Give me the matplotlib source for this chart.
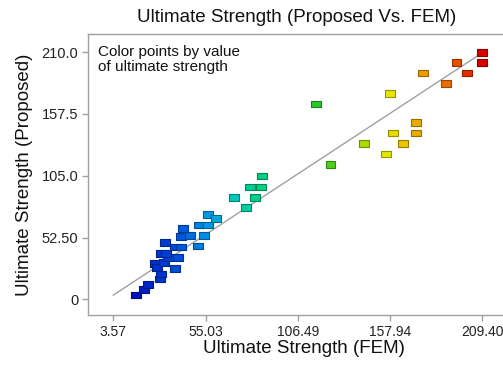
import matplotlib
matplotlib.use("Agg")
import matplotlib.pyplot as plt
import numpy as np
from matplotlib.colors import LinearSegmentedColormap, Normalize

plt.rcParams['font.family'] = ['Liberation Sans', 'DejaVu Sans']

# Data: FEM (x) vs Proposed (y)
fem = [16.2, 20.9, 23.1, 29.6, 30.0, 38.2, 26.8, 28.1, 32.0, 33.9,
       30.2, 33.0, 39.5, 38.2, 41.3, 32.6, 50.7, 41.3, 46.4, 54.0,
       42.6, 51.5, 56.2, 56.2, 60.9, 70.7, 77.8, 82.8, 79.8, 86.2,
       86.5, 116.7, 124.8, 143.3, 155.7, 159.8, 165.4, 172.4, 172.4, 157.8,
       176.2, 189.2, 195.1, 201.1, 209.1, 209.1]
proposed = [3.7, 8.5, 12.7, 17.2, 21.5, 26.3, 30.2, 27.2, 31.1, 35.3,
            39.1, 39.1, 35.7, 44.4, 44.4, 48.4, 45.3, 53.2, 54.4, 54.0,
            60.0, 63.1, 63.1, 71.9, 68.8, 86.7, 77.8, 86.3, 95.4, 95.4,
            104.8, 165.9, 114.7, 132.2, 123.4, 141.3, 132.5, 150.4, 141.3, 175.0,
            192.3, 183.2, 201.4, 192.3, 209.9, 201.0]

xticks = [3.57, 55.03, 106.49, 157.94, 209.40]
xtick_labels = ["3.57", "55.03", "106.49", "157.94", "209.40"]
yticks = [0, 52.5, 105.0, 157.5, 210.0]
ytick_labels = ["0", "52.50", "105.0", "157.5", "210.0"]
ref_line = [3.57, 209.40]

stops = [(0.0, (0/255, 20/255, 190/255)),
         (0.124, (0/255, 80/255, 220/255)),
         (0.207, (0/255, 150/255, 230/255)),
         (0.28, (0/255, 200/255, 190/255)),
         (0.357, (0/255, 210/255, 130/255)),
         (0.523, (40/255, 200/255, 40/255)),
         (0.658, (170/255, 220/255, 0/255)),
         (0.73, (230/255, 230/255, 0/255)),
         (0.808, (235/255, 175/255, 0/255)),
         (0.896, (235/255, 110/255, 0/255)),
         (0.958, (230/255, 50/255, 0/255)),
         (1.0, (215/255, 0/255, 0/255))]
cmap = LinearSegmentedColormap.from_list("strength", stops)

fig = plt.figure(figsize=(5.03, 3.67), dpi=100)
ax = fig.add_axes([88/503, 52/367, (520-88)/503, (315-34)/367])

x = np.array(fem)
y = np.array(proposed)
norm = Normalize(vmin=x.min(), vmax=x.max())
face = cmap(norm(x))
edge = face.copy()
edge[:, :3] = edge[:, :3] * 0.65

ax.plot(ref_line, ref_line, color='#a0a0a0', lw=1.0, zorder=1)
rect = [(-1.45, -1), (1.45, -1), (1.45, 1), (-1.45, 1), (-1.45, -1)]
ax.scatter(x, y, marker=rect, s=50, c=face, edgecolors=edge, linewidths=0.8, zorder=2)

ax.set_xlim(-10.54, 230.5)
ax.set_ylim(-13.3, 225.4)
ax.set_xticks(xticks)
ax.set_xticklabels(xtick_labels)
ax.set_yticks(yticks)
ax.set_yticklabels(ytick_labels)

for s in ax.spines.values():
    s.set_color('#a0a0a0')
    s.set_linewidth(1.0)
ax.tick_params(axis='both', direction='out', length=4, width=1, color='#a0a0a0',
               labelsize=10.5, labelcolor='#222222', pad=3)
ax.tick_params(axis='x', labelsize=10)

ax.set_xlabel("Ultimate Strength (FEM)", fontsize=13.5, color='#111111', labelpad=1)
ax.set_ylabel("Ultimate Strength (Proposed)", fontsize=13.5, color='#111111', labelpad=6)
fig.text(297/503, 1 - 18/367, "Ultimate Strength (Proposed Vs. FEM)", fontsize=13.5,
         ha='center', va='center', color='#111111')
ax.text(0.022, 0.96, "Color points by value\nof ultimate strength", transform=ax.transAxes,
        fontsize=11, va='top', ha='left', color='#111111', linespacing=1.1)

fig.savefig("out.png", dpi=100)
